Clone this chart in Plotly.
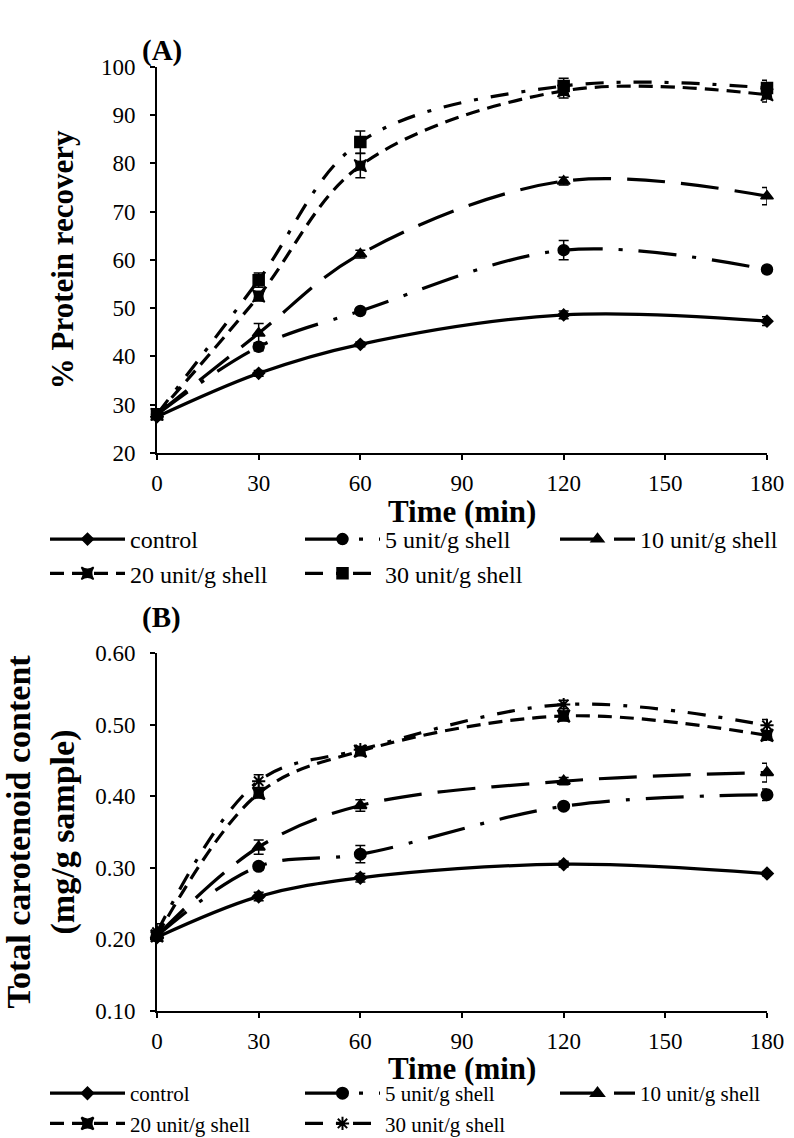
import plotly.graph_objects as go
from plotly.subplots import make_subplots

time = [0, 30, 60, 120, 180]
names = ["control", "5 unit/g shell", "10 unit/g shell", "20 unit/g shell", "30 unit/g shell"]

# Panel A: % protein recovery
protein = {
    "control": [27.5, 36.5, 42.5, 48.6, 47.3],
    "5 unit/g shell": [28.0, 42.0, 49.4, 62.0, 58.0],
    "10 unit/g shell": [28.0, 44.8, 61.2, 76.3, 73.2],
    "20 unit/g shell": [28.0, 52.5, 79.5, 95.0, 94.2],
    "30 unit/g shell": [28.0, 55.8, 84.4, 96.0, 95.6],
}
protein_err = {
    "control": [0.5, 0.6, 0.5, 0.8, 0.9],
    "5 unit/g shell": [0.5, 0.8, 0.6, 2.0, 0.6],
    "10 unit/g shell": [0.5, 2.0, 0.8, 0.8, 1.8],
    "20 unit/g shell": [0.5, 1.0, 2.5, 1.5, 1.5],
    "30 unit/g shell": [0.8, 1.5, 2.3, 1.6, 1.6],
}

# Panel B: total carotenoid content (mg/g sample)
carot = {
    "control": [0.203, 0.260, 0.286, 0.305, 0.292],
    "5 unit/g shell": [0.205, 0.302, 0.319, 0.386, 0.402],
    "10 unit/g shell": [0.205, 0.329, 0.387, 0.421, 0.433],
    "20 unit/g shell": [0.205, 0.404, 0.463, 0.512, 0.485],
    "30 unit/g shell": [0.210, 0.421, 0.465, 0.528, 0.499],
}
carot_err = {
    "control": [0.004, 0.006, 0.006, 0.004, 0.003],
    "5 unit/g shell": [0.004, 0.005, 0.012, 0.003, 0.008],
    "10 unit/g shell": [0.004, 0.010, 0.008, 0.005, 0.013],
    "20 unit/g shell": [0.004, 0.006, 0.004, 0.007, 0.007],
    "30 unit/g shell": [0.012, 0.009, 0.004, 0.006, 0.008],
}

dashes = {
    "control": "solid",
    "5 unit/g shell": "38px,16px,4px,16px",
    "10 unit/g shell": "38px,16px",
    "20 unit/g shell": "14px,8px",
    "30 unit/g shell": "18px,13px,4px,13px",
}
symbols_a = {"control": "diamond", "5 unit/g shell": "circle", "10 unit/g shell": "triangle-up",
             "20 unit/g shell": "star-square", "30 unit/g shell": "square"}
symbols_b = {"control": "diamond", "5 unit/g shell": "circle", "10 unit/g shell": "triangle-up",
             "20 unit/g shell": "star-square", "30 unit/g shell": "asterisk-open"}
msize = {"control": 9, "5 unit/g shell": 11, "10 unit/g shell": 11, "20 unit/g shell": 11, "30 unit/g shell": 11}

FONT = "Liberation Serif"
W, H = 794, 1138

fig = make_subplots(rows=2, cols=1)

for n in names:
    fig.add_trace(go.Scatter(
        x=time, y=protein[n], name=n, mode="lines+markers",
        line=dict(color="black", width=3.2, dash=dashes[n], shape="spline", smoothing=1),
        marker=dict(symbol=symbols_a[n], size=msize[n], color="black", line=dict(color="black", width=1.5)),
        error_y=dict(type="data", array=protein_err[n], color="black", thickness=1.5, width=5),
        cliponaxis=False, legend="legend",
    ), row=1, col=1)

for n in names:
    fig.add_trace(go.Scatter(
        x=time, y=carot[n], name=n, mode="lines+markers",
        line=dict(color="black", width=3.2, dash=dashes[n], shape="spline", smoothing=1),
        marker=dict(symbol=symbols_b[n], size=msize[n], color="black", line=dict(color="black", width=2)),
        error_y=dict(type="data", array=carot_err[n], color="black", thickness=1.5, width=5),
        cliponaxis=False, legend="legend2",
    ), row=2, col=1)

axis_common = dict(showline=True, linecolor="black", linewidth=2, ticks="outside", ticklen=5,
                   tickwidth=2, tickcolor="black", showgrid=False, zeroline=False,
                   automargin=False,
                   tickfont=dict(family=FONT, size=23, color="black"))

fig.update_xaxes(range=[0, 180], tickvals=[0, 30, 60, 90, 120, 150, 180], ticklabelstandoff=3, **axis_common)

fig.update_yaxes(range=[20, 100], dtick=10, ticklabelstandoff=10, **axis_common, row=1, col=1)
fig.update_yaxes(title=dict(text="<b>% Protein recovery</b>", font=dict(family=FONT, size=31, color="black"),
                            standoff=18), row=1, col=1)
fig.update_yaxes(range=[0.1, 0.6], dtick=0.1, tickformat=".2f", ticklabelstandoff=10, **axis_common, row=2, col=1)
fig.update_yaxes(title=dict(text="<b>Total carotenoid content<br>(mg/g sample)</b>",
                            font=dict(family=FONT, size=34, color="black"), standoff=14), row=2, col=1)

legend_common = dict(orientation="h", x=45 / W, xanchor="left", yanchor="top",
                     entrywidth=165, entrywidthmode="pixels",
                     itemwidth=75, tracegroupgap=0, bgcolor="rgba(0,0,0,0)")

title_font = dict(family=FONT, size=31, color="black")
xmid = (157 + 767) / 2 / W

fig.update_layout(
    width=W, height=H,
    margin=dict(l=0, r=0, t=0, b=0, autoexpand=False),
    plot_bgcolor="white", paper_bgcolor="white",
    font=dict(family=FONT, color="black"),
    xaxis=dict(domain=[157 / W, 767 / W], anchor="y"),
    yaxis=dict(domain=[1 - 453 / H, 1 - 66.7 / H]),
    xaxis2=dict(domain=[157 / W, 767 / W], anchor="y2"),
    yaxis2=dict(domain=[1 - 1011 / H, 1 - 653 / H]),
    legend=dict(y=1 - 517 / H, font=dict(family=FONT, size=24, color="black"), **legend_common),
    legend2=dict(y=1 - 1073 / H, font=dict(family=FONT, size=21, color="black"), **legend_common),
    annotations=[
        dict(text="<b>(A)</b>", x=140 / W, y=1 - 32 / H, xref="paper", yref="paper",
             showarrow=False, font=dict(family=FONT, size=29, color="black")),
        dict(text="<b>(B)</b>", x=140 / W, y=1 - 617 / H, xref="paper", yref="paper",
             showarrow=False, font=dict(family=FONT, size=29, color="black")),
        dict(text="<b>Time (min)</b>", x=xmid, y=1 - 512 / H, xref="paper", yref="paper",
             xanchor="center", yanchor="middle", showarrow=False, font=title_font),
        dict(text="<b>Time (min)</b>", x=xmid, y=1 - 1068 / H, xref="paper", yref="paper",
             xanchor="center", yanchor="middle", showarrow=False, font=title_font),
    ],
)

fig.write_html("out.html")
